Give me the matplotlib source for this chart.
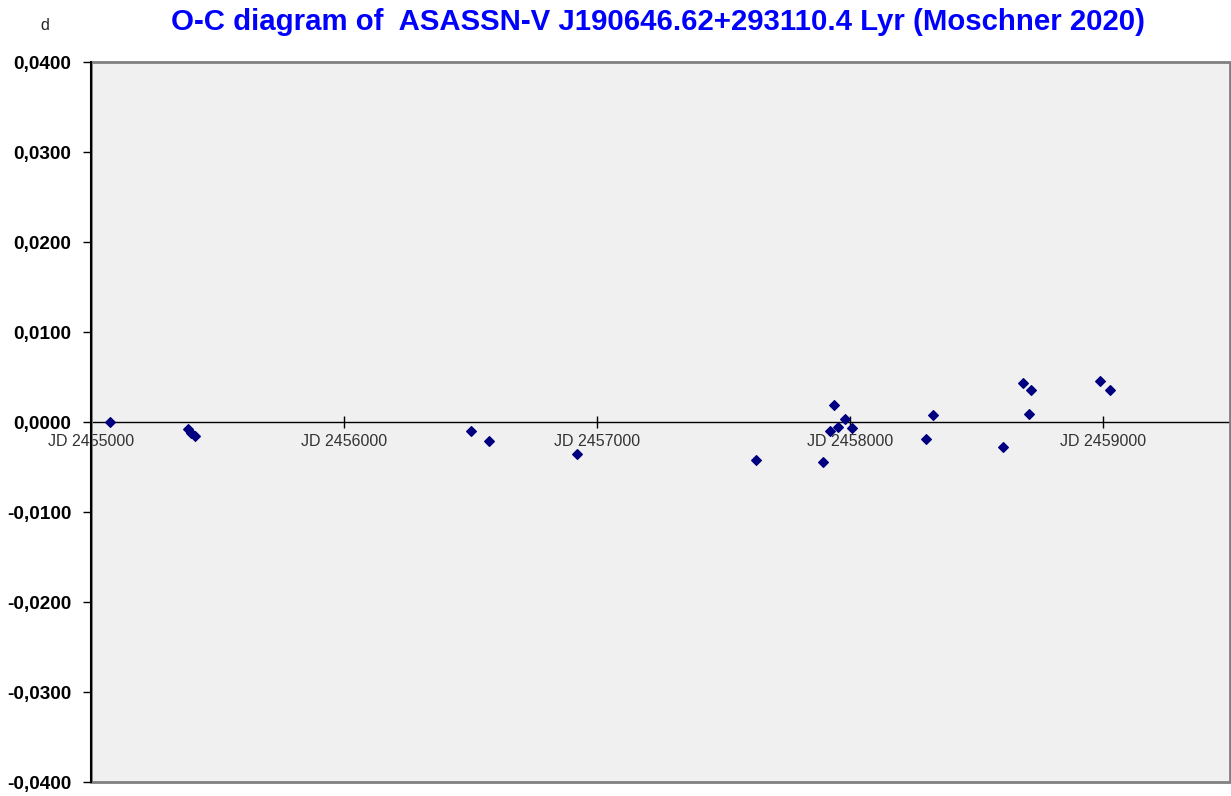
import numpy as np
import matplotlib
matplotlib.use("Agg")
import matplotlib.pyplot as plt
from matplotlib.patches import Rectangle
from matplotlib.ticker import FuncFormatter, MultipleLocator

plt.rcParams['font.family'] = ['Liberation Sans', 'DejaVu Sans']

# O-C values (days) vs Julian Date
jd = [2455076, 2455382, 2455395, 2455411, 2456503, 2456571, 2456920,
      2457628, 2457893, 2457921, 2457934, 2457950, 2457978, 2458008,
      2458299, 2458325, 2458602, 2458681, 2458706, 2458714, 2458987, 2459024]
oc = [0.0000, -0.0008, -0.0012, -0.0016, -0.0010, -0.0021, -0.0035,
      -0.0042, -0.0044, -0.0010, 0.0019, -0.0005, 0.0003, -0.0007,
      -0.0019, 0.0008, -0.0028, 0.0043, 0.0009, 0.0036, 0.0046, 0.0036]

x_ticks = [2455000, 2456000, 2457000, 2458000, 2459000]
x_labels = ["JD %d" % t for t in x_ticks]
title = "O-C diagram of  ASASSN-V J190646.62+293110.4 Lyr (Moschner 2020)"

fig = plt.figure(figsize=(12.31, 7.96), dpi=100)
ax = fig.add_axes([91 / 1231, 14 / 796, 1139 / 1231, 720 / 796])
ax.set_facecolor('#f0f0f0')

ax.scatter(jd, oc, marker='D', s=24, color='#000080', zorder=5, clip_on=False)

ax.set_xlim(2455000, 2459500)
ax.set_ylim(-0.04, 0.04)

# x axis drawn through zero
ax.spines['bottom'].set_position(('data', 0))
ax.spines['bottom'].set_color('black')
ax.spines['bottom'].set_linewidth(1.0)
ax.spines['top'].set_visible(False)
ax.spines['right'].set_visible(False)
ax.spines['left'].set_color('black')
ax.spines['left'].set_linewidth(1.5)
ax.spines['left'].set_zorder(6)

frame = Rectangle((0, 0), 1, 1, transform=ax.transAxes, fill=False,
                  ec='#808080', lw=2, clip_on=False, zorder=4)
ax.add_patch(frame)

ax.set_xticks(x_ticks)
ax.set_xticklabels(x_labels)
ax.tick_params(axis='x', direction='inout', length=9, width=1, pad=4,
               labelsize=11.5, labelcolor='#333333')

ax.yaxis.set_major_locator(MultipleLocator(0.01))
ax.yaxis.set_major_formatter(FuncFormatter(lambda v, p: ("%.4f" % v).replace('.', ',').replace('-0,0000', '0,0000')))
ax.tick_params(axis='y', direction='out', length=6, width=1, pad=8, labelsize=13.7)
for lab in ax.get_yticklabels():
    lab.set_fontweight('bold')

fig.text(658 / 1231, 1 - 22 / 796, title, ha='center', va='center',
         fontsize=21.2, fontweight='bold', color='#0000ff')
fig.text(45 / 1231, 1 - 25 / 796, "d", ha='center', va='center',
         fontsize=11.5, color='#222222')

fig.savefig("out.png", dpi=100)
